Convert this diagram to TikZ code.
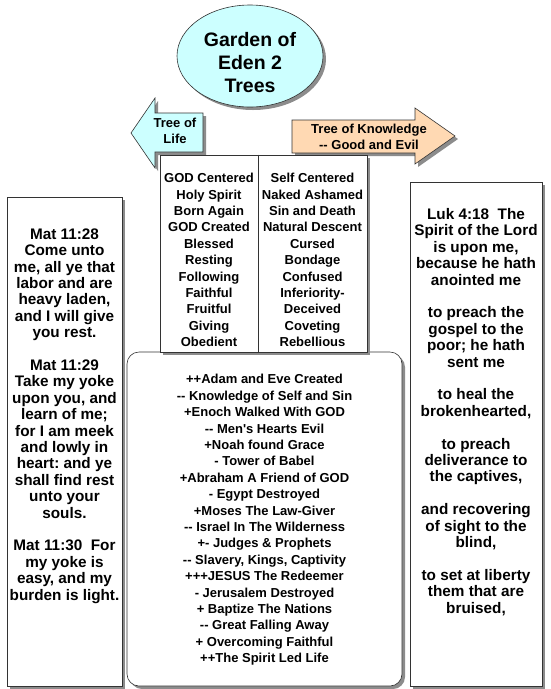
\documentclass[tikz,border=0pt]{standalone}
\usepackage{fontspec}
\setmainfont{Liberation Sans}
\usetikzlibrary{shapes.geometric,shadows,positioning}
\frenchspacing

\definecolor{edencyan}{HTML}{CCFFFF}
\definecolor{knowpeach}{HTML}{FFD9B3}

\begin{document}
\begin{tikzpicture}[
  x=1pt,y=-1pt,
  shade/.style={drop shadow={shadow xshift=3pt, shadow yshift=-3pt, fill=black!45, opacity=1}},
  frame/.style={draw=black!80, line width=0.6pt},
  panel/.style={frame, shade, fill=white, inner sep=0pt},
  small/.style={font=\bfseries\fontsize{13}{16.4}\selectfont, align=center, inner sep=0pt},
  large/.style={font=\bfseries\fontsize{15.3}{16.4}\selectfont, align=center, inner sep=0pt}
]
\useasboundingbox[fill=white] (0,0) rectangle (551,689);

% title
\node[ellipse, frame, shade, fill=edencyan, minimum width=146pt, minimum height=102pt, inner sep=0pt] (eden) at (250,56) {};
\node[font=\bfseries\fontsize{19.5}{23}\selectfont, align=center, inner sep=0pt] (edentitle) at (250,63) {Garden of\\Eden 2\\Trees};

% the two arrows
\draw[frame, shade, fill=edencyan] (131,133) -- (155,98) -- (155,113) -- (203,113) -- (203,152) -- (155,152) -- (155,168) -- cycle;
\node[small] (lifetag) at (175,131) {Tree of\\Life};
\draw[frame, shade, fill=knowpeach] (292,120) -- (415,120) -- (415,108) -- (455,136) -- (415,164) -- (415,153) -- (292,153) -- cycle;
\node[small] (knowtag) at (369,137) {Tree of Knowledge\\-{}- Good and Evil};

% history box
\node[panel, rounded corners=12pt, minimum width=275pt, minimum height=334pt] (history) at (264.5,519) {};
\node[small] (historytext) at (264.5,520) {++Adam and Eve Created\\-{}- Knowledge of Self and Sin\\+Enoch Walked With GOD\\-{}- Men\textquotesingle s Hearts Evil\\+Noah found Grace\\- Tower of Babel\\+Abraham A Friend of GOD\\- Egypt Destroyed\\+Moses The Law-Giver\\-{}- Israel In The Wilderness\\+- Judges \& Prophets\\-{}- Slavery, Kings, Captivity\\+++JESUS The Redeemer\\- Jerusalem Destroyed\\+ Baptize The Nations\\-{}- Great Falling Away\\+ Overcoming Faithful\\++The Spirit Led Life};

% table of the two trees
\node[panel, minimum width=207pt, minimum height=197pt] (trees) at (263.5,253.5) {};
\coordinate (split) at (258,0);
\draw[frame] (split |- trees.north) -- (split |- trees.south);
\node[small] (lifelist) at (209,260) {GOD Centered\\Holy Spirit\\Born Again\\GOD Created\\Blessed\\Resting\\Following\\Faithful\\Fruitful\\Giving\\Obedient};
\node[small] (knowlist) at (312.5,260) {Self Centered\\Naked Ashamed\\Sin and Death\\Natural Descent\\Cursed\\Bondage\\Confused\\Inferiority-\\Deceived\\Coveting\\Rebellious};

% scripture boxes
\node[panel, minimum width=115pt, minimum height=489pt] (matbox) at (64.5,441.5) {};
\node[large] (mattext) at (64.5,416) {Mat 11:28\\Come unto\\me, all ye that\\labor and are\\heavy laden,\\and I will give\\you rest.\\[16.4pt]Mat 11:29\\Take my yoke\\upon you, and\\learn of me;\\for I am meek\\and lowly in\\heart: and ye\\shall find rest\\unto your\\souls.\\[16.4pt]Mat 11:30\ \ For\\my yoke is\\easy, and my\\burden is light.};
\node[panel, minimum width=132pt, minimum height=504pt] (lukbox) at (476,434) {};
\node[large] (luktext) at (476,412) {Luk 4:18\ \ The\\Spirit of the Lord\\is upon me,\\because he hath\\anointed me\\[16.4pt]to preach the\\gospel to the\\poor; he hath\\sent me\\[16.4pt]to heal the\\brokenhearted,\\[16.4pt]to preach\\deliverance to\\the captives,\\[16.4pt]and recovering\\of sight to the\\blind,\\[16.4pt]to set at liberty\\them that are\\bruised,};
\end{tikzpicture}
\end{document}
